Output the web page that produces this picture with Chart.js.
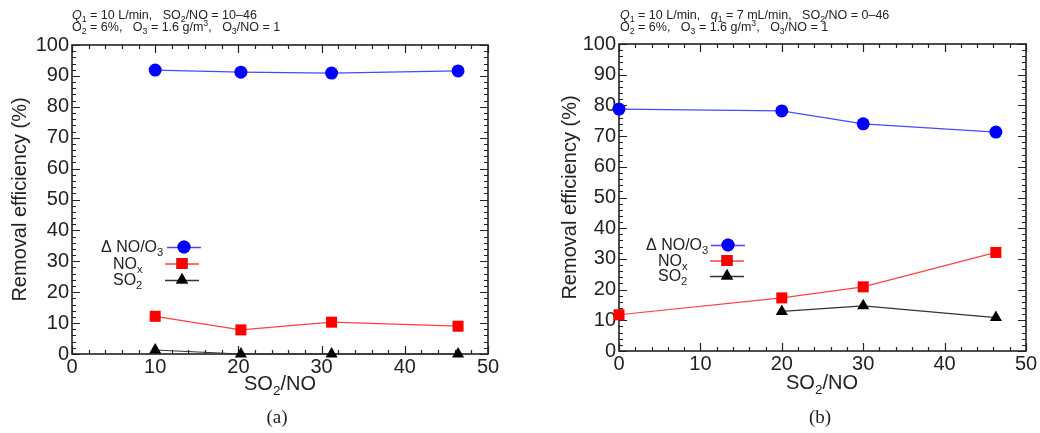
<!DOCTYPE html>
<html><head><meta charset="utf-8">
<script src="https://cdn.jsdelivr.net/npm/chart.js@4.4.1/dist/chart.umd.min.js"></script>
<style>
body{margin:0;background:#fff;}
#wrap{position:relative;width:1040px;height:433px;overflow:hidden;font-family:"Liberation Sans",Arial,sans-serif;color:#222;}
canvas{position:absolute;top:0;}
.hdr{position:absolute;font-size:12.5px;line-height:12px;white-space:pre;color:#222;}
.hdr sub{font-size:0.7em;vertical-align:-0.3em;line-height:0}
.hdr sup{font-size:0.7em;vertical-align:0.55em;line-height:0}
.xt{position:absolute;font-size:20px;width:200px;text-align:center;line-height:20px;color:#222;}
.xt sub{font-size:0.68em;vertical-align:-0.35em;line-height:0}
.cap{position:absolute;font-family:"Liberation Serif","Times New Roman",serif;font-size:19px;line-height:22px;width:60px;text-align:center;color:#222;}
</style></head>
<body>
<div id="wrap">
<canvas id="cA" width="520" height="433" style="left:0"></canvas>
<canvas id="cB" width="520" height="433" style="left:520px"></canvas>
<div class="hdr" style="left:72px;top:9px"><i>Q</i><sub>1</sub> = 10 L/min,   SO<sub>2</sub>/NO = 10–46
O<sub>2</sub> = 6%,   O<sub>3</sub> = 1.6 g/m<sup>3</sup>,   O<sub>3</sub>/NO = 1</div>
<div class="hdr" style="left:620px;top:9px"><i>Q</i><sub>1</sub> = 10 L/min,   <i>q</i><sub>1</sub> = 7 mL/min,   SO<sub>2</sub>/NO = 0–46
O<sub>2</sub> = 6%,   O<sub>3</sub> = 1.6 g/m<sup>3</sup>,   O<sub>3</sub>/NO = 1</div>
<div class="xt" style="left:180px;top:373px">SO<sub>2</sub>/NO</div>
<div class="xt" style="left:722px;top:372px">SO<sub>2</sub>/NO</div>
<div class="cap" style="left:247px;top:406px">(a)</div>
<div class="cap" style="left:790px;top:406px">(b)</div>
</div>
<script>
// ---- data ----
const seriesNames = ['ΔNO/O3', 'NOx', 'SO2'];
// panel (a)
const xA = [10, 20.3, 31.2, 46.4];
const dNoA = [91.9, 91.2, 90.9, 91.6];
const noxA = [12.2, 7.8, 10.3, 9.0];
const so2A = [1.3, 0, 0, 0];
// panel (b)
const xB = [0, 20, 30, 46.3];
const dNoB = [78.8, 78.2, 74.0, 71.3];
const noxB = [11.8, 17.3, 20.9, 32.1];
const so2B = [null, 12.9, 14.7, 10.9];
// axes
const xMin = 0, xMax = 50, xMajor = 10, xMinor = 2;
const yMin = 0, yMax = 100, yMajor = 10, yMinor = 2;

const FONT = '"Liberation Sans", Arial, sans-serif';
const styles = [
  {line: 'rgba(40,40,255,0.85)', fill: '#0000ff', pointStyle: 'circle', r: 6.5},
  {line: 'rgba(255,30,30,0.85)', fill: '#ff0000', pointStyle: 'rect', r: 7.8},
  {line: '#333333', fill: '#000000', pointStyle: 'triangle', r: 7}
];

function pts(xs, ys) {
  const out = [];
  xs.forEach((x, i) => { if (ys[i] !== null && ys[i] !== undefined) out.push({x: x, y: ys[i]}); });
  return out;
}

const framePlugin = {
  id: 'frame',
  beforeDatasetsDraw(chart) {
    const {ctx, chartArea: a, scales: {x, y}} = chart;
    ctx.save();
    ctx.strokeStyle = '#222';
    ctx.lineWidth = 1.2;
    ctx.beginPath();
    for (let v = xMin; v <= xMax + 1e-9; v += xMinor) {
      const px = Math.round(x.getPixelForValue(v)) + 0.5;
      const L = (Math.abs(v % xMajor) < 1e-9) ? 8 : 4;
      ctx.moveTo(px, a.bottom); ctx.lineTo(px, a.bottom - L);
      ctx.moveTo(px, a.top); ctx.lineTo(px, a.top + L);
    }
    for (let v = yMin; v <= yMax + 1e-9; v += yMinor) {
      const py = Math.round(y.getPixelForValue(v)) + 0.5;
      const L = (Math.abs(v % yMajor) < 1e-9) ? 8 : 4;
      ctx.moveTo(a.left, py); ctx.lineTo(a.left + L, py);
      ctx.moveTo(a.right, py); ctx.lineTo(a.right - L, py);
    }
    ctx.stroke();
    ctx.lineWidth = 1.6;
    ctx.strokeRect(a.left, a.top, a.right - a.left, a.bottom - a.top);
    ctx.restore();
  }
};

function drawParts(ctx, parts, x, y, size) {
  let cx = x;
  for (const p of parts) {
    const fs = p.s ? size * 0.7 : size;
    ctx.font = fs + 'px ' + FONT;
    ctx.fillText(p.t, cx, y + (p.s ? size * 0.28 : 0));
    cx += ctx.measureText(p.t).width;
  }
}
function labelParts(name) {
  const m = name.match(/^(.*?)([0-9x])$/);
  const main = m ? m[1] : name;
  const parts = [{t: main.replace('Δ', 'Δ ')}];
  if (m) parts.push({t: m[2], s: true});
  return parts;
}

const legendPlugin = {
  id: 'richLegend',
  afterDatasetsDraw(chart, args, opts) {
    const ctx = chart.ctx;
    ctx.save();
    ctx.fillStyle = '#222';
    ctx.textBaseline = 'alphabetic';
    chart.data.datasets.forEach((ds, i) => {
      const row = opts.rows[i];
      drawParts(ctx, labelParts(ds.label), row.tx, row.y + 5, 16);
      ctx.strokeStyle = ds.borderColor;
      ctx.lineWidth = 1.3;
      ctx.beginPath();
      ctx.moveTo(row.mx - 17, row.y + 0.5); ctx.lineTo(row.mx + 17, row.y + 0.5);
      ctx.stroke();
      Chart.helpers.drawPoint(ctx, {pointStyle: ds.pointStyle, radius: ds.pointRadius, borderWidth: 0}, row.mx, row.y);
      ctx.fillStyle = ds.pointBackgroundColor;
      ctx.fill();
      ctx.fillStyle = '#222';
    });
    ctx.restore();
  }
};

function makeChart(id, xs, seriesVals, lay) {
  const datasets = seriesVals.map((ys, i) => ({
    label: seriesNames[i],
    data: pts(xs, ys),
    showLine: true,
    borderColor: styles[i].line,
    borderWidth: 1.2,
    pointStyle: styles[i].pointStyle,
    pointRadius: styles[i].r,
    pointBackgroundColor: styles[i].fill,
    pointBorderColor: styles[i].fill,
    pointBorderWidth: 0,
    clip: false
  }));
  return new Chart(document.getElementById(id), {
    type: 'scatter',
    data: {datasets},
    plugins: [framePlugin, legendPlugin],
    options: {
      responsive: false,
      animation: false,
      events: [],
      layout: {padding: {top: lay.top, right: lay.right, left: lay.left, bottom: 0}},
      plugins: {
        legend: {display: false},
        tooltip: {enabled: false},
        richLegend: {rows: lay.rows}
      },
      scales: {
        x: {
          type: 'linear', min: xMin, max: xMax,
          ticks: {stepSize: xMajor, font: {size: 20, family: FONT}, color: '#222', padding: 1, maxRotation: 0},
          grid: {display: false, drawTicks: false},
          border: {display: false},
          afterFit(s) { s.height = lay.xh; }
        },
        y: {
          type: 'linear', min: yMin, max: yMax,
          ticks: {stepSize: yMajor, font: {size: 20, family: FONT}, color: '#222', padding: 3},
          grid: {display: false, drawTicks: false},
          border: {display: false},
          title: {display: true, text: 'Removal efficiency (%)', font: {size: 20, family: FONT}, color: '#222', padding: {top: 8, bottom: 0}},
          afterFit(s) { s.width = lay.yw; }
        }
      }
    }
  });
}

makeChart('cA', xA, [dNoA, noxA, so2A], {
  top: 45, right: 32, left: 0, yw: 72, xh: 79,
  rows: [{tx: 101, y: 247, mx: 184}, {tx: 113, y: 263.5, mx: 182}, {tx: 113, y: 280, mx: 182}]
});
makeChart('cB', xB, [dNoB, noxB, so2B], {
  top: 44, right: 14, left: 30, yw: 69, xh: 82,
  rows: [{tx: 126, y: 245, mx: 208}, {tx: 138, y: 260.5, mx: 207}, {tx: 138, y: 276, mx: 207}]
});
</script>
</body></html>
